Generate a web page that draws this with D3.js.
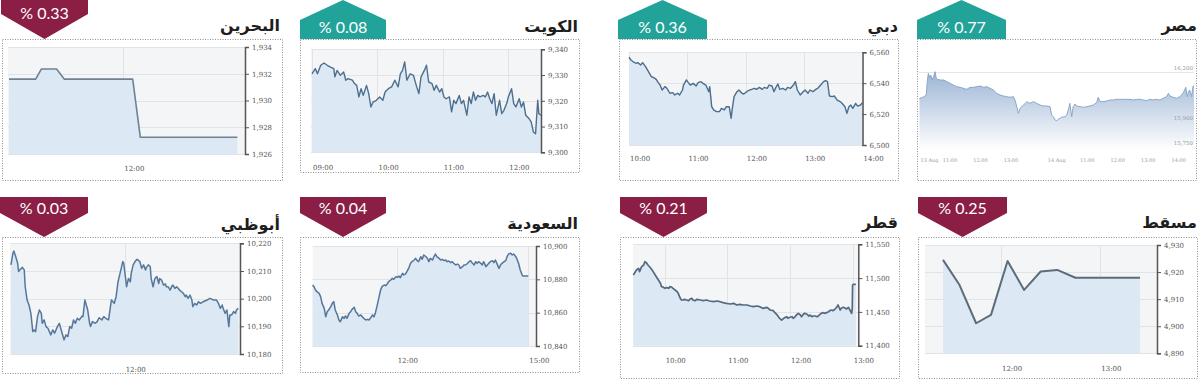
<!DOCTYPE html>
<html><head><meta charset="utf-8">
<script src="https://cdn.jsdelivr.net/npm/d3@7"></script>
<style>body{margin:0;background:#fff}svg{display:block}</style>
</head><body>
<svg id="c" width="1200" height="382"></svg>
<script>
// ---------- DATA ----------
// [minutes since window start, index value]
const bahrain = [[0,1931.6],[14,1931.6],[17,1932.35],[25,1932.35],[29,1931.6],[65,1931.6],[69,1927.25],[120,1927.25]];
const kuwait = [[0,9330.5],[3,9332.5],[5,9330.5],[8,9333.8],[11,9334.7],[14,9333.8],[17,9333.1],[20,9332.5],[21,9329.3],[23,9331.8],[26,9329.9],[29,9331.2],[31,9328.0],[33,9328.6],[37,9328.0],[39,9326.7],[41,9326.0],[43,9321.5],[45,9324.7],[47,9322.1],[50,9326.0],[52,9322.8],[54,9317.6],[56,9319.5],[59,9320.2],[62,9321.5],[65,9320.2],[67,9323.4],[70,9324.7],[73,9325.4],[76,9328.0],[79,9325.4],[81,9330.5],[83,9331.8],[85,9335.1],[87,9328.0],[90,9330.5],[93,9329.9],[96,9325.4],[98,9322.8],[100,9329.3],[103,9331.8],[105,9333.8],[107,9327.3],[110,9326.7],[112,9324.1],[114,9326.0],[117,9323.4],[119,9324.7],[121,9321.5],[123,9320.8],[126,9321.5],[128,9315.7],[130,9320.2],[132,9318.9],[135,9322.1],[137,9318.9],[139,9320.2],[142,9314.4],[144,9321.5],[146,9318.9],[148,9323.4],[150,9320.2],[152,9322.1],[154,9321.5],[157,9322.1],[159,9321.5],[161,9323.4],[163,9320.8],[165,9318.9],[167,9322.8],[169,9314.4],[172,9320.2],[174,9315.0],[176,9316.3],[179,9319.5],[180,9321.5],[183,9324.7],[185,9318.9],[187,9317.6],[190,9320.8],[192,9317.6],[194,9319.5],[196,9314.4],[199,9313.1],[201,9311.8],[203,9307.9],[205,9307.2],[207,9320.2],[208,9315.0],[210,9314.4]];
const dubai = [[0,6556.8],[2,6555.0],[4,6554.0],[7,6552.9],[9,6553.3],[12,6551.8],[14,6553.3],[17,6550.7],[19,6548.6],[21,6546.4],[23,6544.2],[25,6543.8],[28,6542.5],[30,6540.4],[32,6538.8],[34,6535.6],[37,6537.8],[39,6536.7],[42,6533.5],[45,6533.9],[47,6532.4],[50,6533.5],[52,6532.4],[55,6535.6],[56,6538.8],[59,6542.1],[61,6540.4],[63,6538.8],[66,6539.9],[69,6538.2],[71,6540.4],[74,6541.0],[76,6539.9],[79,6538.8],[82,6534.5],[83,6537.8],[85,6524.8],[87,6522.7],[90,6521.6],[93,6521.6],[95,6523.7],[98,6522.7],[100,6524.8],[103,6524.8],[105,6517.3],[106,6522.7],[108,6531.3],[111,6534.5],[113,6535.6],[116,6533.5],[118,6533.0],[121,6534.5],[124,6535.6],[126,6536.0],[129,6536.7],[131,6536.0],[134,6537.3],[137,6536.0],[139,6537.3],[142,6536.7],[144,6538.8],[147,6538.2],[149,6534.5],[151,6537.3],[153,6539.5],[155,6536.0],[158,6536.7],[161,6535.6],[163,6537.3],[166,6536.7],[169,6538.8],[171,6541.0],[173,6535.6],[176,6532.4],[179,6534.5],[181,6535.6],[184,6533.5],[186,6535.6],[189,6534.5],[192,6536.0],[194,6536.7],[197,6538.8],[200,6541.0],[202,6541.7],[204,6541.0],[206,6531.7],[209,6531.3],[211,6531.7],[214,6529.1],[217,6528.1],[219,6527.0],[222,6524.8],[224,6520.5],[226,6524.8],[228,6525.9],[230,6523.7],[233,6527.0],[235,6525.2],[238,6525.9],[240,6527.4]];
// Egypt: [trading hours across two sessions, value]
const egypt = [[0,16040],[0.08,16044],[0.15,16050],[0.22,16060],[0.26,16150],[0.29,16190],[0.33,16166],[0.37,16180],[0.41,16150],[0.46,16170],[0.51,16200],[0.55,16160],[0.59,16154],[0.68,16150],[0.79,16150],[0.9,16140],[1.0,16130],[1.11,16120],[1.22,16110],[1.33,16106],[1.44,16100],[1.55,16094],[1.66,16106],[1.77,16106],[1.88,16110],[1.99,16114],[2.10,16106],[2.21,16110],[2.31,16100],[2.42,16090],[2.53,16070],[2.64,16060],[2.75,16054],[2.86,16050],[2.97,16046],[3.08,16050],[3.13,16030],[3.19,15990],[3.24,15950],[3.30,15980],[3.41,16000],[3.52,16020],[3.62,16010],[3.73,16020],[3.84,16010],[3.95,16000],[4.06,15994],[4.17,15994],[4.28,15990],[4.33,15940],[4.39,15930],[4.44,15910],[4.50,15906],[4.55,15914],[4.66,15926],[4.77,15930],[4.83,15940],[4.88,15970],[4.93,16010],[4.99,15930],[5.04,15990],[5.10,16006],[5.15,15994],[5.26,15990],[5.37,15986],[5.48,15990],[5.59,15994],[5.70,16000],[5.81,16014],[5.86,16046],[5.92,16020],[6.03,16020],[6.14,16024],[6.24,16030],[6.35,16030],[6.46,16034],[6.57,16034],[6.68,16034],[6.79,16034],[6.90,16034],[7.01,16030],[7.12,16034],[7.23,16034],[7.34,16030],[7.45,16026],[7.55,16034],[7.66,16030],[7.77,16034],[7.88,16030],[7.99,16040],[8.10,16050],[8.16,16070],[8.21,16054],[8.32,16046],[8.43,16040],[8.54,16050],[8.59,16060],[8.65,16074],[8.70,16094],[8.73,16106],[8.78,16050],[8.82,16080],[8.86,16090],[8.92,16050],[8.97,16114],[9.0,16114]];
const abuDhabi = [[0,10212.2],[2,10216.4],[3,10217.2],[5,10215.2],[7,10212.8],[8,10209.8],[10,10210.6],[12,10211.3],[14,10210.4],[15,10204.3],[17,10199.5],[19,10197.7],[21,10194.7],[23,10188.1],[24,10188.7],[26,10188.1],[28,10193.5],[30,10195.9],[32,10194.7],[33,10191.1],[35,10192.3],[37,10189.9],[39,10189.3],[42,10186.9],[44,10188.7],[46,10187.5],[49,10189.9],[51,10191.1],[53,10188.7],[55,10186.3],[56,10185.1],[58,10186.9],[60,10186.3],[62,10189.9],[64,10189.3],[66,10192.3],[68,10191.1],[70,10192.9],[72,10192.3],[75,10193.7],[76,10193.5],[78,10199.5],[81,10195.9],[83,10191.1],[84,10189.9],[86,10191.7],[89,10191.1],[91,10191.7],[93,10193.1],[96,10192.3],[98,10193.5],[100,10192.9],[103,10192.3],[105,10197.1],[106,10199.5],[109,10198.3],[111,10200.7],[113,10206.1],[116,10210.4],[118,10213.4],[119,10212.8],[121,10207.3],[122,10204.3],[124,10207.3],[126,10206.1],[127,10209.2],[129,10212.2],[131,10213.4],[133,10214.2],[134,10214.0],[136,10213.4],[138,10211.0],[140,10212.2],[142,10210.4],[143,10211.3],[145,10212.2],[147,10211.6],[148,10207.3],[150,10204.3],[152,10207.3],[154,10208.0],[156,10205.5],[157,10207.3],[159,10206.7],[161,10204.9],[163,10205.3],[164,10204.3],[166,10204.3],[168,10203.1],[170,10204.6],[171,10204.9],[173,10203.7],[175,10204.3],[178,10203.1],[180,10202.5],[182,10201.9],[184,10200.7],[185,10201.3],[187,10200.1],[189,10201.3],[191,10199.5],[192,10197.1],[194,10198.3],[196,10197.7],[198,10198.9],[200,10198.3],[203,10198.9],[207,10199.5],[210,10200.1],[214,10199.5],[217,10199.5],[219,10198.3],[221,10196.5],[223,10197.7],[224,10196.5],[226,10194.7],[228,10195.9],[230,10189.9],[231,10194.1],[233,10194.1],[235,10195.3],[237,10194.7],[238,10195.9],[240,10196.5]];
const saudi = [[5,10876.6],[7,10875.6],[9,10873.6],[11,10872.6],[14,10871.6],[16,10869.6],[18,10865.6],[21,10862.6],[23,10857.6],[25,10860.6],[27,10861.6],[30,10863.6],[32,10865.6],[34,10866.6],[36,10861.6],[39,10858.6],[41,10855.6],[43,10854.6],[46,10857.6],[48,10856.6],[50,10858.0],[52,10856.6],[55,10859.6],[57,10860.6],[59,10862.0],[62,10863.2],[64,10860.6],[66,10859.6],[68,10858.0],[71,10858.6],[73,10857.6],[75,10856.6],[78,10855.6],[80,10856.0],[82,10855.6],[84,10856.6],[87,10858.6],[89,10857.6],[91,10860.0],[93,10863.6],[96,10869.6],[98,10873.6],[100,10875.6],[103,10876.6],[105,10876.2],[107,10877.2],[109,10878.6],[112,10879.6],[114,10880.6],[116,10880.0],[119,10881.6],[121,10881.2],[123,10882.0],[125,10881.0],[128,10883.6],[130,10882.6],[132,10883.2],[134,10884.6],[137,10887.2],[139,10889.6],[141,10890.6],[144,10891.6],[146,10892.6],[148,10891.2],[150,10890.6],[153,10893.6],[155,10892.0],[157,10894.6],[160,10893.6],[162,10892.6],[164,10890.6],[166,10892.6],[169,10891.6],[171,10893.6],[173,10895.2],[175,10893.6],[178,10892.6],[180,10891.6],[182,10892.0],[185,10891.2],[187,10891.6],[189,10890.6],[191,10891.0],[194,10890.0],[196,10890.6],[198,10889.6],[201,10888.6],[203,10889.2],[205,10888.6],[207,10886.6],[210,10887.6],[212,10888.6],[214,10888.6],[216,10889.2],[219,10890.6],[221,10891.2],[223,10890.0],[226,10888.6],[228,10890.6],[230,10889.6],[232,10890.6],[235,10889.6],[237,10888.6],[239,10890.6],[242,10887.6],[244,10888.6],[246,10889.6],[248,10890.6],[251,10891.2],[253,10890.0],[255,10891.6],[257,10889.6],[260,10886.6],[262,10888.6],[264,10889.6],[267,10890.6],[269,10891.2],[271,10893.6],[273,10895.2],[276,10895.6],[278,10894.6],[280,10895.2],[283,10893.6],[285,10891.6],[287,10889.2],[289,10885.6],[292,10882.2],[294,10882.0],[296,10882.0],[298,10882.0],[300,10882.0]];
const qatar = [[0,11504.6],[2,11509.5],[3,11512.0],[5,11514.5],[6,11509.5],[8,11516.9],[10,11519.4],[11,11524.3],[13,11521.9],[14,11519.4],[16,11516.0],[18,11512.0],[19,11509.5],[21,11504.6],[22,11502.1],[24,11497.2],[26,11492.3],[27,11487.3],[29,11486.4],[30,11484.9],[32,11485.9],[34,11484.9],[35,11487.3],[37,11486.4],[38,11484.9],[40,11482.4],[42,11479.9],[43,11477.5],[45,11470.1],[46,11467.6],[48,11467.6],[49,11468.6],[51,11467.6],[53,11466.6],[54,11468.6],[56,11470.1],[57,11467.6],[59,11466.6],[61,11468.6],[64,11467.6],[67,11466.6],[70,11467.6],[73,11466.1],[77,11465.1],[80,11466.1],[83,11465.1],[86,11463.7],[89,11462.7],[93,11461.7],[96,11462.7],[99,11460.2],[102,11461.2],[105,11460.2],[109,11460.2],[112,11458.7],[115,11457.7],[118,11458.7],[121,11457.7],[124,11455.3],[128,11456.8],[131,11452.8],[134,11451.8],[136,11447.9],[137,11446.9],[140,11440.5],[142,11438.0],[144,11440.5],[145,11441.5],[147,11442.9],[148,11440.5],[150,11442.0],[152,11442.9],[153,11440.5],[155,11442.9],[156,11445.4],[158,11447.9],[160,11445.4],[161,11442.9],[163,11446.9],[164,11447.9],[166,11446.9],[168,11443.9],[169,11445.4],[171,11442.9],[172,11443.9],[174,11443.9],[176,11442.9],[177,11443.9],[179,11446.9],[180,11447.9],[182,11448.9],[183,11447.9],[185,11448.9],[187,11450.3],[188,11451.8],[190,11452.8],[191,11451.8],[193,11453.8],[195,11457.7],[196,11460.2],[198,11452.8],[199,11455.3],[201,11456.8],[203,11455.3],[204,11454.3],[206,11456.8],[207,11453.8],[209,11447.9],[209.6,11455.3],[209.9,11489.8],[211,11490.8],[213,11490.8]];
const muscat = [[0,4924.5],[10,4915.2],[20,4901.1],[29,4904.2],[39,4924.1],[49,4913.4],[59,4920.2],[69,4920.8],[80,4917.9],[90,4917.9],[100,4917.9],[110,4917.9],[119,4917.9]];

const names = ["البحرين","الكويت","دبي","مصر","أبوظبي","السعودية","قطر","مسقط"];
const changes = ["% 0.33","% 0.08","% 0.36","% 0.77","% 0.03","% 0.04","% 0.21","% 0.25"];
const directions = ["down","up","up","up","down","down","down","down"];
const series = [bahrain,kuwait,dubai,egypt,abuDhabi,saudi,qatar,muscat];
const xDomains = [[0,124],[0,210],[0,240],[0,9],[0,240],[0,300],[0,210],[0,119]];
const yDomains = [[1926,1934],[9300,9340],[6500,6560],[15730,16360],[10180,10220],[10840,10900],[11400,11550],[4890,4930]];
const yTicks = [[1926,1928,1930,1932,1934],[9300,9310,9320,9330,9340],[6500,6520,6540,6560],[15750,15900,16200],
                [10180,10190,10200,10210,10220],[10840,10860,10880,10900],[11400,11450,11500,11550],[4890,4900,4910,4920,4930]];
const xTickVals = [[60],[0,60,120,180],[0,60,120,180,240],[0,1,2,3,4.5,5.5,6.5,7.5,8.5],[120],[120,300],[30,90,150,210],[35,95]];
const xTickLabels = [["12:00"],["09:00","10:00","11:00","12:00"],["10:00","11:00","12:00","13:00","14:00"],
                     ["13 Aug","11:00","12:00","13:00","14 Aug","11:00","12:00","13:00","14:00"],
                     ["12:00"],["12:00","15:00"],["10:00","11:00","12:00","13:00"],["12:00","13:00"]];

// ---------- LAYOUT ----------
const layout = [
 {box:[2,39,280,141], xr:[9,245], bgx:8, ax:245, yt:47, yb:154, xl:171, title:[280,31], badge:[1,88,-2,14,39]},
 {box:[300,39,279,133], xr:[312,541], bgx:311, ax:541, yt:49.3, yb:152.3, xl:169.5, title:[578,31.5], badge:[300,386,0,20,39]},
 {box:[619,39,279,141], xr:[629,862.5], bgx:629, ax:862.5, yt:52.3, yb:145, xl:160.5, title:[898,32], badge:[618,707,0,20,39]},
 {box:[917,39,279,141], xr:[919.5,1194], bgx:919, ax:1194, yt:45, yb:150, xl:162, title:[1197,31], badge:[917,1006,0,20,39], egypt:true},
 {box:[2,237,280,136], xr:[11,238.3], bgx:10, ax:240, yt:243.3, yb:354, xl:372, title:[280,230], badge:[0,88,197,213,237]},
 {box:[300,237,279,135], xr:[308.9,528.3], bgx:312.7, ax:536, yt:246, yb:346, xl:362.5, title:[578,229], badge:[300,386,197,213,237]},
 {box:[620,237,279,141], xr:[633.3,852.7], bgx:633, ax:858.3, yt:244.3, yb:345.7, xl:362.5, title:[898,228], badge:[620,707,197,213,237]},
 {box:[918,237,279,141], xr:[943,1140], bgx:925, ax:1157, yt:245, yb:353.3, xl:370.5, title:[1197,228], badge:[918,1007,197,213,237]}
];

const svg = d3.select("#c");
const defs = svg.append("defs");
const grad = defs.append("linearGradient").attr("id","eg").attr("x1",0).attr("y1",0).attr("x2",0).attr("y2",1);
grad.append("stop").attr("offset","0%").attr("stop-color","#9bb5d5");
grad.append("stop").attr("offset","100%").attr("stop-color","#ffffff");

const fmt = d3.format(",");
const MAROON = "#8b1e45", TEAL = "#22a39a";

names.forEach((name,i)=>{
  const L = layout[i], data = series[i];
  const g = svg.append("g");
  g.append("rect").attr("x",L.box[0]+0.5).attr("y",L.box[1]+0.5).attr("width",L.box[2]).attr("height",L.box[3])
    .attr("fill","#fff").attr("stroke","#8f8f8f").attr("stroke-dasharray","1,1.5");
  const x = d3.scaleLinear().domain(xDomains[i]).range(L.xr);
  const y = d3.scaleLinear().domain(yDomains[i]).range([L.yb, L.yt]);

  if(!L.egypt){
    g.append("rect").attr("x",L.bgx).attr("y",L.yt).attr("width",L.ax-L.bgx).attr("height",L.yb-L.yt).attr("fill","#f4f5f7");
  }
  g.selectAll(".hg").data(yTicks[i]).join("line")
    .attr("x1",L.bgx).attr("x2",L.ax).attr("y1",d=>Math.round(y(d))+0.5).attr("y2",d=>Math.round(y(d))+0.5)
    .attr("stroke",L.egypt?"#e6e6e6":"#e1e3e6");
  if(!L.egypt){
    g.selectAll(".vg").data(xTickVals[i]).join("line")
      .attr("x1",d=>Math.round(x(d))+0.5).attr("x2",d=>Math.round(x(d))+0.5).attr("y1",L.yt).attr("y2",L.yb)
      .attr("stroke","#e1e3e6");
  }
  const area = d3.area().x(d=>x(d[0])).y0(L.yb).y1(d=>y(d[1]));
  const line = d3.line().x(d=>x(d[0])).y(d=>y(d[1]));
  g.append("path").datum(data).attr("d",area).attr("fill",L.egypt?"url(#eg)":"#dce8f3");
  const lc = ["#6e8296","#4d6f90","#4d6d8c","#8ba6c6","#55779a","#55769a","#546a80","#5d6c7a"][i];
  const lw = [1.6,1.4,1.4,1,1.5,1.5,1.7,2][i];
  g.append("path").datum(data).attr("d",line).attr("fill","none").attr("stroke",lc).attr("stroke-width",lw).attr("stroke-linejoin","round");

  if(!L.egypt){
    const ax = g.append("g").attr("transform",`translate(${L.ax},0)`)
      .call(d3.axisRight(y).tickValues(yTicks[i]).tickSize(4).tickPadding(3).tickFormat(fmt));
    ax.select(".domain").attr("stroke","#555").attr("stroke-width",1.5);
    ax.selectAll(".tick line").attr("stroke","#555");
    ax.selectAll(".tick text").attr("fill","#555").style("font","7px 'DejaVu Serif'");
    g.selectAll(".xl").data(xTickVals[i]).join("text")
      .attr("x",d=>x(d)+1).attr("y",L.xl).attr("text-anchor","start")
      .attr("fill","#555").style("font","7px 'DejaVu Serif'")
      .text((d,k)=>xTickLabels[i][k]);
  } else {
    g.selectAll(".yl").data(yTicks[i]).join("text")
      .attr("x",1193).attr("y",d=>y(d)-2).attr("text-anchor","end")
      .attr("fill","#999").style("font","5.5px 'DejaVu Serif'").text(fmt);
    g.selectAll(".xl").data(xTickVals[i]).join("text")
      .attr("x",(d,k)=>k===0?x(d)+1:x(d)).attr("y",L.xl).attr("text-anchor",(d,k)=>k===0?"start":"middle")
      .attr("fill","#999").style("font","5px 'DejaVu Serif'")
      .text((d,k)=>xTickLabels[i][k]);
  }

  g.append("text").attr("x",L.title[0]).attr("y",L.title[1]).attr("text-anchor","end")
    .attr("fill","#1e1e1e").style("font","bold 16px 'DejaVu Sans'").text(name);

  const [bl,br,bt,bs,ba] = L.badge, bm=(bl+br)/2;
  let pts, ty;
  if(directions[i]==="down"){
    pts = [[bl,bt],[br,bt],[br,bs],[bm,ba],[bl,bs]];
    ty = bt<0 ? 19 : bt+17;
  } else {
    pts = [[bm,bt],[br,bs],[br,ba],[bl,ba],[bl,bs]];
    ty = 33;
  }
  g.append("path").attr("d","M"+pts.map(p=>p.join(",")).join("L")+"Z")
    .attr("fill",directions[i]==="down"?MAROON:TEAL);
  g.append("text").attr("x",bm).attr("y",ty).attr("text-anchor","middle").attr("fill","#fff")
    .style("font","16px Lato").text(changes[i]);
});
</script>
</body></html>
